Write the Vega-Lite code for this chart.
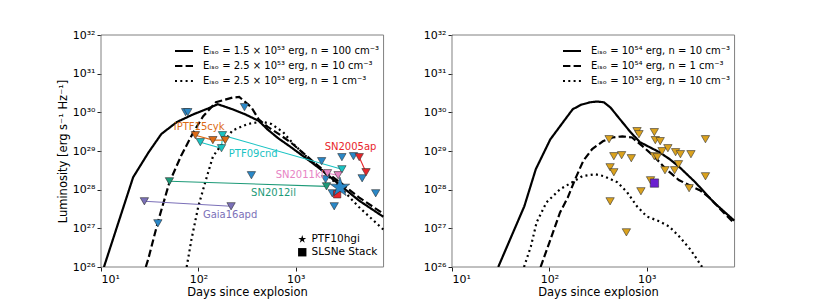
{
  "$schema": "https://vega.github.io/schema/vega-lite/v6.json",
  "background": "white",
  "padding": {"left": 57, "top": 29, "right": 5, "bottom": 5},
  "width": 643,
  "height": 232,
  "config": {
    "font": "DejaVu Sans",
    "view": {"stroke": null},
    "axis": {"grid": false, "domain": false, "tickColor": "#222", "tickSize": 4, "labelPadding": 2, "labelFontSize": 11, "titleFontSize": 11.5, "titleFontWeight": "normal", "labelColor": "black", "titleColor": "black"},
    "legend": {"padding": 0, "labelColor": "black", "labelLimit": 280}
  },
  "datasets": {
    "frame": [{"x1": 10, "x2": 8000, "y1": 1e26, "y2": 1e32}],
    "curvesL": [
      {"m": "a", "days": 10.72, "lum": 1e26}, {"m": "a", "days": 15.14, "lum": 1.445e27}, {"m": "a", "days": 21.38, "lum": 2.089e28}, {"m": "a", "days": 30.9, "lum": 9.333e28}, {"m": "a", "days": 41.69, "lum": 2.754e29}, {"m": "a", "days": 60.26, "lum": 5.623e29}, {"m": "a", "days": 89.13, "lum": 8.913e29}, {"m": "a", "days": 125.9, "lum": 1.259e30}, {"m": "a", "days": 158.5, "lum": 1.622e30}, {"m": "a", "days": 223.9, "lum": 1.202e30}, {"m": "a", "days": 302, "lum": 8.913e29}, {"m": "a", "days": 416.9, "lum": 6.026e29}, {"m": "a", "days": 512.9, "lum": 3.631e29}, {"m": "a", "days": 660.7, "lum": 2.138e29}, {"m": "a", "days": 871, "lum": 1.318e29}, {"m": "a", "days": 1380, "lum": 5.623e28}, {"m": "a", "days": 1862, "lum": 3.162e28}, {"m": "a", "days": 2851, "lum": 1.318e28}, {"m": "a", "days": 4467, "lum": 5.248e27}, {"m": "a", "days": 7943, "lum": 1.995e27},
      {"m": "b", "days": 28.84, "lum": 1e26}, {"m": "b", "days": 30.55, "lum": 1.585e26}, {"m": "b", "days": 38.37, "lum": 1.445e27}, {"m": "b", "days": 50.47, "lum": 1.549e28}, {"m": "b", "days": 66.37, "lum": 7.413e28}, {"m": "b", "days": 89.13, "lum": 3.09e29}, {"m": "b", "days": 112.2, "lum": 7.943e29}, {"m": "b", "days": 151.4, "lum": 1.82e30}, {"m": "b", "days": 223.9, "lum": 2.399e30}, {"m": "b", "days": 263, "lum": 2.512e30}, {"m": "b", "days": 350.8, "lum": 1.349e30}, {"m": "b", "days": 416.9, "lum": 6.607e29}, {"m": "b", "days": 512.9, "lum": 4.266e29}, {"m": "b", "days": 707.9, "lum": 2.512e29}, {"m": "b", "days": 912, "lum": 1.585e29}, {"m": "b", "days": 1259, "lum": 7.943e28}, {"m": "b", "days": 1585, "lum": 4.786e28}, {"m": "b", "days": 1995, "lum": 3.02e28}, {"m": "b", "days": 2818, "lum": 1.585e28}, {"m": "b", "days": 4467, "lum": 6.31e27}, {"m": "b", "days": 7943, "lum": 2.399e27},
      {"m": "c", "days": 75.86, "lum": 1e26}, {"m": "c", "days": 85.11, "lum": 5.248e26}, {"m": "c", "days": 100, "lum": 3.715e27}, {"m": "c", "days": 120.2, "lum": 1.862e28}, {"m": "c", "days": 141.3, "lum": 7.244e28}, {"m": "c", "days": 166, "lum": 1.259e29}, {"m": "c", "days": 223.9, "lum": 3.388e29}, {"m": "c", "days": 323.6, "lum": 5.012e29}, {"m": "c", "days": 446.7, "lum": 5.754e29}, {"m": "c", "days": 562.3, "lum": 5.012e29}, {"m": "c", "days": 741.3, "lum": 3.09e29}, {"m": "c", "days": 933.3, "lum": 1.585e29}, {"m": "c", "days": 1259, "lum": 7.586e28}, {"m": "c", "days": 1778, "lum": 3.548e28}, {"m": "c", "days": 2818, "lum": 1.202e28}, {"m": "c", "days": 4467, "lum": 3.548e27}, {"m": "c", "days": 7943, "lum": 9.333e26}
    ],
    "curvesR": [
      {"m": "a", "days": 29.85, "lum": 1e26}, {"m": "a", "days": 55.34, "lum": 3.715e27}, {"m": "a", "days": 72.61, "lum": 3.388e28}, {"m": "a", "days": 102.3, "lum": 1.995e29}, {"m": "a", "days": 128.8, "lum": 4.365e29}, {"m": "a", "days": 173.8, "lum": 1.202e30}, {"m": "a", "days": 213.8, "lum": 1.585e30}, {"m": "a", "days": 263, "lum": 1.82e30}, {"m": "a", "days": 309, "lum": 1.905e30}, {"m": "a", "days": 363.1, "lum": 1.82e30}, {"m": "a", "days": 426.6, "lum": 1.318e30}, {"m": "a", "days": 501.2, "lum": 7.943e29}, {"m": "a", "days": 676.1, "lum": 3.162e29}, {"m": "a", "days": 851.1, "lum": 1.698e29}, {"m": "a", "days": 1072, "lum": 1.259e29}, {"m": "a", "days": 1349, "lum": 9.333e28}, {"m": "a", "days": 1698, "lum": 6.31e28}, {"m": "a", "days": 2138, "lum": 3.981e28}, {"m": "a", "days": 3162, "lum": 1.549e28}, {"m": "a", "days": 4898, "lum": 4.677e27}, {"m": "a", "days": 7943, "lum": 1.585e27},
      {"m": "b", "days": 81.28, "lum": 1e26}, {"m": "b", "days": 102.3, "lum": 5.012e26}, {"m": "b", "days": 128.8, "lum": 2.57e27}, {"m": "b", "days": 154.9, "lum": 6.31e27}, {"m": "b", "days": 186.2, "lum": 1.995e28}, {"m": "b", "days": 223.9, "lum": 5.623e28}, {"m": "b", "days": 275.4, "lum": 1.122e29}, {"m": "b", "days": 354.8, "lum": 1.778e29}, {"m": "b", "days": 446.7, "lum": 2.239e29}, {"m": "b", "days": 562.3, "lum": 2.399e29}, {"m": "b", "days": 707.9, "lum": 2.239e29}, {"m": "b", "days": 912, "lum": 1.318e29}, {"m": "b", "days": 1202, "lum": 7.079e28}, {"m": "b", "days": 1585, "lum": 3.388e28}, {"m": "b", "days": 2138, "lum": 1.778e28}, {"m": "b", "days": 2818, "lum": 1.259e28}, {"m": "b", "days": 3548, "lum": 9.55e27}, {"m": "b", "days": 4467, "lum": 6.026e27}, {"m": "b", "days": 6166, "lum": 2.57e27}, {"m": "b", "days": 7943, "lum": 1.349e27},
      {"m": "c", "days": 54.95, "lum": 1e26}, {"m": "c", "days": 64.57, "lum": 3.388e26}, {"m": "c", "days": 74.13, "lum": 1.445e27}, {"m": "c", "days": 93.33, "lum": 4.677e27}, {"m": "c", "days": 128.8, "lum": 1.023e28}, {"m": "c", "days": 173.8, "lum": 1.585e28}, {"m": "c", "days": 218.8, "lum": 2.239e28}, {"m": "c", "days": 295.1, "lum": 2.512e28}, {"m": "c", "days": 363.1, "lum": 2.239e28}, {"m": "c", "days": 501.2, "lum": 1.549e28}, {"m": "c", "days": 631, "lum": 8.511e27}, {"m": "c", "days": 794.3, "lum": 3.715e27}, {"m": "c", "days": 1000, "lum": 2.042e27}, {"m": "c", "days": 1349, "lum": 1.514e27}, {"m": "c", "days": 1698, "lum": 1.122e27}, {"m": "c", "days": 2138, "lum": 6.31e26}, {"m": "c", "days": 2818, "lum": 2.818e26}, {"m": "c", "days": 3715, "lum": 1e26}
    ],
    "ptsL": [
      {"sn": "other", "days": 74, "lum": 1.01e30}, {"sn": "other", "days": 78, "lum": 1.01e30}, {"sn": "other", "days": 298, "lum": 1.36e30}, {"sn": "other", "days": 351, "lum": 2.36e28}, {"sn": "other", "days": 38.4, "lum": 1.35e27}, {"sn": "other", "days": 1849, "lum": 5.45e28}, {"sn": "other", "days": 2985, "lum": 6.92e28}, {"sn": "other", "days": 3926, "lum": 7.33e28}, {"sn": "other", "days": 2028, "lum": 1.86e28}, {"sn": "other", "days": 4820, "lum": 1.97e28}, {"sn": "other", "days": 2377, "lum": 8.07e27}, {"sn": "other", "days": 6637, "lum": 8.07e27}, {"sn": "other", "days": 2489, "lum": 3.72e27},
      {"sn": "SN2005ap", "days": 4500, "lum": 6.92e28}, {"sn": "SN2005ap", "days": 5284, "lum": 2.83e28},
      {"sn": "PTF09cnd", "days": 104.8, "lum": 1.69e29}, {"sn": "PTF09cnd", "days": 173, "lum": 1.18e29}, {"sn": "PTF09cnd", "days": 177, "lum": 2.56e29}, {"sn": "PTF09cnd", "days": 2985, "lum": 3.37e28},
      {"sn": "iPTF15cyk", "days": 93.3, "lum": 2.56e29}, {"sn": "iPTF15cyk", "days": 141, "lum": 1.91e29}, {"sn": "iPTF15cyk", "days": 189, "lum": 1.91e29},
      {"sn": "SN2012il", "days": 50.5, "lum": 1.65e28}, {"sn": "SN2012il", "days": 2075, "lum": 1.22e28},
      {"sn": "Gaia16apd", "days": 27.9, "lum": 5.01e27}, {"sn": "Gaia16apd", "days": 217, "lum": 3.72e27},
      {"sn": "SN2011kl", "days": 2123, "lum": 2.66e28}, {"sn": "SN2011kl", "days": 2729, "lum": 2.36e28}
    ],
    "labelsL": [
      {"sn": "iPTF15cyk", "days": 102, "lum": 4.14e29}, {"sn": "PTF09cnd", "days": 366, "lum": 8.26e28}, {"sn": "SN2005ap", "days": 3664, "lum": 1.25e29}, {"sn": "SN2011kl", "days": 1097, "lum": 2.36e28}, {"sn": "SN2012il", "days": 592, "lum": 8.07e27}, {"sn": "Gaia16apd", "days": 212, "lum": 2.17e27}
    ],
    "specialL": [
      {"obj": "SLSNe Stack", "days": 2667, "lum": 7.6e27}, {"obj": "PTF10hgi", "days": 2853, "lum": 1.15e28}
    ],
    "ptsR": [
      {"days": 411, "lum": 2.02e29}, {"days": 796, "lum": 3.26e29}, {"days": 834, "lum": 2.72e29}, {"days": 1199, "lum": 3.07e29}, {"days": 1227, "lum": 1.91e29}, {"days": 1377, "lum": 1.8e29}, {"days": 1439, "lum": 9.89e28}, {"days": 1652, "lum": 1.18e29}, {"days": 1982, "lum": 9.31e28}, {"days": 2223, "lum": 8.26e28}, {"days": 2851, "lum": 8.26e28}, {"days": 4018, "lum": 2.02e29}, {"days": 460, "lum": 7.33e28}, {"days": 553, "lum": 7.78e28}, {"days": 695, "lum": 6.5e28}, {"days": 421, "lum": 3.8e28}, {"days": 460, "lum": 2.82e28}, {"days": 1199, "lum": 7.33e28}, {"days": 1285, "lum": 6.9e28}, {"days": 1542, "lum": 3.18e28}, {"days": 1936, "lum": 3.18e28}, {"days": 2123, "lum": 4.55e28}, {"days": 4018, "lum": 2.22e28}, {"days": 1096, "lum": 1.75e28}, {"days": 2729, "lum": 1.09e28}, {"days": 873, "lum": 9.1e27}, {"days": 421, "lum": 5.0e27}, {"days": 619, "lum": 7.87e26}
    ],
    "stackR": [{"obj": "SLSNe Stack", "days": 1202, "lum": 1.48e28}]
  },
  "resolve": {"scale": {"x": "independent", "strokeDash": "independent"}, "axis": {"x": "independent", "y": "independent"}},
  "layer": [
    {
      "layer": [
        {
          "data": {"name": "frame"},
          "mark": {"type": "rect", "fillOpacity": 0, "stroke": "#808080", "strokeWidth": 1},
          "encoding": {
            "x": {"field": "x1", "type": "quantitative", "scale": {"type": "log", "domain": [10, 8000], "range": [0, 292]}, "axis": {"orient": "bottom", "values": [10, 100, 1000], "labelOverlap": false, "labelExpr": "datum.value == 10 ? '10¹' : datum.value == 100 ? '10²' : '10³'", "title": "Days since explosion", "titlePadding": 2}},
            "x2": {"field": "x2"},
            "y": {"field": "y1", "type": "quantitative", "scale": {"type": "log", "domain": [1e26, 1e32]}, "axis": {"orient": "left", "values": [1e26, 1e27, 1e28, 1e29, 1e30, 1e31, 1e32], "labelOverlap": false, "labelExpr": "datum.value < 5e26 ? '10²⁶' : datum.value < 5e27 ? '10²⁷' : datum.value < 5e28 ? '10²⁸' : datum.value < 5e29 ? '10²⁹' : datum.value < 5e30 ? '10³⁰' : datum.value < 5e31 ? '10³¹' : '10³²'", "title": "Luminosity [erg s⁻¹ Hz⁻¹]", "titlePadding": 4}},
            "y2": {"field": "y2"}
          }
        },
        {
          "data": {"name": "curvesL"},
          "mark": {"type": "line", "color": "black", "strokeWidth": 2.2, "clip": true},
          "encoding": {
            "x": {"field": "days", "type": "quantitative"},
            "y": {"field": "lum", "type": "quantitative"},
            "strokeDash": {"field": "m", "type": "nominal", "scale": {"domain": ["a", "b", "c"], "range": [[1, 0], [7.4, 3.2], [2, 3.3]]}, "legend": {"title": null, "orient": "none", "legendX": 73, "legendY": 6, "symbolType": "stroke", "symbolSize": 324, "symbolStrokeWidth": 2, "symbolStrokeColor": "black", "labelFontSize": 10, "labelOffset": 9, "rowPadding": 0, "labelExpr": "datum.label == 'a' ? 'Eᵢₛₒ = 1.5 × 10⁵³ erg, n = 100 cm⁻³' : datum.label == 'b' ? 'Eᵢₛₒ = 2.5 × 10⁵³ erg, n = 10 cm⁻³' : 'Eᵢₛₒ = 2.5 × 10⁵³ erg, n = 1 cm⁻³'"}}
          }
        },
        {
          "data": {"name": "ptsL"},
          "transform": [{"filter": "datum.sn != 'other'"}],
          "mark": {"type": "line", "strokeWidth": 1.1, "clip": true},
          "encoding": {
            "x": {"field": "days", "type": "quantitative"},
            "y": {"field": "lum", "type": "quantitative"},
            "color": {"field": "sn", "type": "nominal", "scale": {"domain": ["other", "SN2005ap", "PTF09cnd", "iPTF15cyk", "SN2012il", "Gaia16apd", "SN2011kl"], "range": ["#2a88c8", "#e8262b", "#19c3c3", "#dc6b16", "#1d9a78", "#7b70b8", "#e784c4"]}, "legend": null}
          }
        },
        {
          "data": {"name": "ptsL"},
          "mark": {"type": "point", "shape": "triangle-down", "filled": true, "size": 70, "opacity": 1, "stroke": "#333", "strokeWidth": 0.6, "clip": true},
          "encoding": {
            "x": {"field": "days", "type": "quantitative"},
            "y": {"field": "lum", "type": "quantitative"},
            "fill": {"field": "sn", "type": "nominal", "scale": {"domain": ["other", "SN2005ap", "PTF09cnd", "iPTF15cyk", "SN2012il", "Gaia16apd", "SN2011kl"], "range": ["#2a88c8", "#e8262b", "#19c3c3", "#dc6b16", "#1d9a78", "#7b70b8", "#e784c4"]}, "legend": null}
          }
        },
        {
          "data": {"name": "labelsL"},
          "mark": {"type": "text", "fontSize": 10},
          "encoding": {
            "x": {"field": "days", "type": "quantitative"},
            "y": {"field": "lum", "type": "quantitative"},
            "text": {"field": "sn"},
            "color": {"field": "sn", "type": "nominal", "legend": null}
          }
        },
        {
          "data": {"name": "specialL"},
          "transform": [{"filter": "datum.obj == 'SLSNe Stack'"}],
          "mark": {"type": "point", "filled": true, "opacity": 1, "size": 55, "stroke": "#222", "strokeWidth": 0.5},
          "encoding": {
            "x": {"field": "days", "type": "quantitative"},
            "y": {"field": "lum", "type": "quantitative"},
            "shape": {"field": "obj", "type": "nominal", "scale": {"domain": ["PTF10hgi", "SLSNe Stack"], "range": ["M0,-1L0.2245,-0.309L0.9511,-0.309L0.3633,0.118L0.5878,0.809L0,0.382L-0.5878,0.809L-0.3633,0.118L-0.9511,-0.309L-0.2245,-0.309Z", "square"]}, "legend": {"title": null, "orient": "none", "legendX": 196, "legendY": 199, "symbolSize": 70, "symbolStrokeWidth": 0.4, "symbolStrokeColor": "#222", "labelFontSize": 10.5, "labelOffset": 4, "rowPadding": 2, "encode": {"labels": {"update": {"fill": {"signal": "datum.value == 'PTF10hgi' ? '#9c0d22' : '#7a22e6'"}}}}}},
            "fill": {"field": "obj", "type": "nominal", "scale": {"domain": ["PTF10hgi", "SLSNe Stack"], "range": ["#8b0a1a", "#6a1fd0"]}, "legend": {"title": null, "orient": "none", "legendX": 196, "legendY": 199, "symbolSize": 70, "symbolStrokeWidth": 0.4, "symbolStrokeColor": "#222", "labelFontSize": 10.5, "labelOffset": 4, "rowPadding": 2, "encode": {"labels": {"update": {"fill": {"signal": "datum.value == 'PTF10hgi' ? '#9c0d22' : '#7a22e6'"}}}}}}
          }
        },
        {
          "data": {"name": "specialL"},
          "transform": [{"filter": "datum.obj == 'PTF10hgi'"}],
          "mark": {"type": "point", "filled": true, "opacity": 1, "size": 420, "stroke": "#222", "strokeWidth": 0.5},
          "encoding": {
            "x": {"field": "days", "type": "quantitative"},
            "y": {"field": "lum", "type": "quantitative"},
            "shape": {"field": "obj", "type": "nominal"},
            "fill": {"field": "obj", "type": "nominal"}
          }
        }
      ]
    },
    {
      "layer": [
        {
          "data": {"name": "frame"},
          "mark": {"type": "rect", "fillOpacity": 0, "stroke": "#808080", "strokeWidth": 1},
          "encoding": {
            "x": {"field": "x1", "type": "quantitative", "scale": {"type": "log", "domain": [10, 8000], "range": [351, 643]}, "axis": {"orient": "bottom", "values": [10, 100, 1000], "labelOverlap": false, "labelExpr": "datum.value == 10 ? '10¹' : datum.value == 100 ? '10²' : '10³'", "title": "Days since explosion", "titlePadding": 2}},
            "x2": {"field": "x2"},
            "y": {"field": "y1", "type": "quantitative", "scale": {"type": "log", "domain": [1e26, 1e32]}, "axis": {"orient": "left", "offset": -351, "values": [1e26, 1e27, 1e28, 1e29, 1e30, 1e31, 1e32], "labelOverlap": false, "labelExpr": "datum.value < 5e26 ? '10²⁶' : datum.value < 5e27 ? '10²⁷' : datum.value < 5e28 ? '10²⁸' : datum.value < 5e29 ? '10²⁹' : datum.value < 5e30 ? '10³⁰' : datum.value < 5e31 ? '10³¹' : '10³²'", "title": null}},
            "y2": {"field": "y2"}
          }
        },
        {
          "data": {"name": "curvesR"},
          "mark": {"type": "line", "color": "black", "strokeWidth": 2.2, "clip": true},
          "encoding": {
            "x": {"field": "days", "type": "quantitative"},
            "y": {"field": "lum", "type": "quantitative"},
            "strokeDash": {"field": "m", "type": "nominal", "scale": {"domain": ["a", "b", "c"], "range": [[1, 0], [7.4, 3.2], [2, 3.3]]}, "legend": {"title": null, "orient": "none", "legendX": 461, "legendY": 6, "symbolType": "stroke", "symbolSize": 324, "symbolStrokeWidth": 2, "symbolStrokeColor": "black", "labelFontSize": 10, "labelOffset": 9, "rowPadding": 0, "labelExpr": "datum.label == 'a' ? 'Eᵢₛₒ = 10⁵⁴ erg, n = 10 cm⁻³' : datum.label == 'b' ? 'Eᵢₛₒ = 10⁵⁴ erg, n = 1 cm⁻³' : 'Eᵢₛₒ = 10⁵³ erg, n = 10 cm⁻³'"}}
          }
        },
        {
          "data": {"name": "ptsR"},
          "mark": {"type": "point", "shape": "triangle-down", "filled": true, "size": 70, "opacity": 1, "color": "#dba21d", "stroke": "#333", "strokeWidth": 0.6, "clip": true},
          "encoding": {"x": {"field": "days", "type": "quantitative"}, "y": {"field": "lum", "type": "quantitative"}}
        },
        {
          "data": {"name": "stackR"},
          "mark": {"type": "point", "shape": "square", "filled": true, "size": 70, "opacity": 1, "color": "#6a1fd0", "stroke": "#222", "strokeWidth": 0.5, "clip": true},
          "encoding": {"x": {"field": "days", "type": "quantitative"}, "y": {"field": "lum", "type": "quantitative"}}
        }
      ]
    }
  ]
}
